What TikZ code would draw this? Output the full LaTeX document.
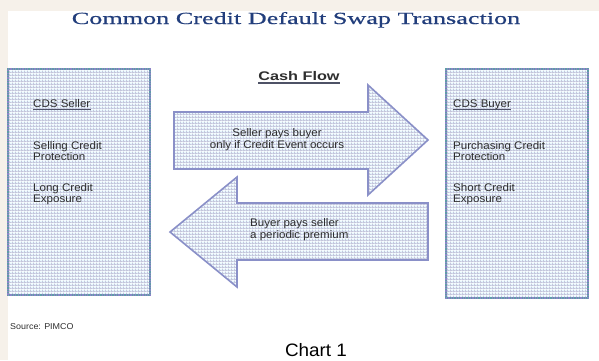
\documentclass[tikz,border=0pt]{standalone}
\usepackage{fontspec}
\usetikzlibrary{patterns.meta}

% Fonts: wide sans for labels, wide serif for the heading
\newfontfamily\labelfont[FakeStretch=1.05]{Liberation Sans}
\newfontfamily\flowfont[FakeStretch=1.3]{Liberation Sans}
\newfontfamily\titlefont[FakeStretch=1.54,FakeBold=0.6]{Liberation Serif}

\definecolor{paper}{HTML}{F6F1EA}
\definecolor{cellfill}{HTML}{E8F8FE}
\definecolor{cellline}{HTML}{C4C6DC}
\definecolor{cellavg}{HTML}{D6DEEC}
\definecolor{edgeteal}{HTML}{5E9EA6}
\definecolor{edgeviolet}{HTML}{8C84C8}
\definecolor{arrowedge}{HTML}{8A90C8}
\definecolor{titleblue}{HTML}{223E7C}
\definecolor{ink}{HTML}{2E2E2E}
\definecolor{rule}{HTML}{4E5266}

% Fine screen texture used inside the boxes and arrows
\tikzdeclarepattern{
  name=cellgrid,
  type=colored,
  bottom left={(0pt,0pt)},
  top right={(3pt,3pt)},
  tile size={(3pt,3pt)},
  code={
    \fill[cellfill] (0pt,0pt) rectangle (3pt,3pt);
    \fill[cellline] (0pt,0pt) rectangle (3pt,1pt);
    \fill[cellline] (0pt,0pt) rectangle (1pt,3pt);
  }
}

\begin{document}
\begin{tikzpicture}[x=1pt,y=-1pt,
  partybox/.style={fill=cellavg, pattern=cellgrid, draw=edgeteal, line width=2.4pt,
    inner sep=0pt, outer sep=0pt, anchor=north west,
    postaction={draw=edgeviolet, line width=2.4pt, dash pattern=on 1.2pt off 1.2pt}},
  flowarrow/.style={fill=cellavg, pattern=cellgrid, draw=arrowedge, line width=1.6pt, line join=miter},
  txt/.style={text=ink, inner sep=0pt, font=\labelfont\fontsize{11}{11}\selectfont},
  txtleft/.style={txt, anchor=base west},
  txtmid/.style={txt, anchor=base},
  heading/.style={txtleft},
  underrule/.style={draw=rule, line width=1.8pt}
]
% page background with the tinted margin strips
\fill[white] (0,0) rectangle (599,360);
\fill[paper] (0,0) rectangle (599,11);
\fill[paper] (0,0) rectangle (8,360);
\useasboundingbox (0,0) rectangle (599,360);

% title
\node[anchor=base, inner sep=0pt, text=titleblue,
      font=\titlefont\fontsize{17}{17}\selectfont] (title) at (296,24)
  {Common Credit Default Swap Transaction};

% the two counterparties
\node[partybox, minimum width=142pt, minimum height=226pt] (seller) at (8,69) {};
\node[partybox, minimum width=142pt, minimum height=229pt] (buyer) at (446,69) {};

\node[heading] (sellerhd) at (33,107) {CDS Seller};
\draw[underrule] ([yshift=-2.5pt]sellerhd.base west) -- ([yshift=-2.5pt]sellerhd.base east);
\node[txtleft] (sell1) at (33,149) {Selling Credit};
\node[txtleft] (sell2) at (33,160) {Protection};
\node[txtleft] (sell3) at (33,191) {Long Credit};
\node[txtleft] (sell4) at (33,202) {Exposure};

\node[heading] (buyerhd) at (453,107) {CDS Buyer};
\draw[underrule] ([yshift=-2.5pt]buyerhd.base west) -- ([yshift=-2.5pt]buyerhd.base east);
\node[txtleft] (buy1) at (453,149) {Purchasing Credit};
\node[txtleft] (buy2) at (453,160) {Protection};
\node[txtleft] (buy3) at (453,191) {Short Credit};
\node[txtleft] (buy4) at (453,202) {Exposure};

% cash flow heading
\node[anchor=base, inner sep=0pt, text=ink,
      font=\flowfont\bfseries\fontsize{12.5}{12.5}\selectfont] (flowhd) at (299,80) {Cash Flow};
\draw[underrule, line width=1.4pt] ([yshift=-3pt]flowhd.base west) -- ([yshift=-3pt]flowhd.base east);

% protection payment: seller to buyer
\path[flowarrow] (174,112) -- (368,112) -- (368,85) -- (428,140) -- (368,195)
  -- (368,169) -- (174,169) -- cycle;
\node[txtmid] (pay1) at (277,136) {Seller pays buyer};
\node[txtmid] (pay2) at (277,148) {only if Credit Event occurs};

% premium payment: buyer to seller
\path[flowarrow] (428,203) -- (237,203) -- (237,177) -- (170,232) -- (237,287)
  -- (237,260) -- (428,260) -- cycle;
\node[txtleft] (prem1) at (250,226) {Buyer pays seller};
\node[txtleft] (prem2) at (250,238) {a periodic premium};

% footer
\node[txtleft, font=\labelfont\fontsize{8.5}{8.5}\selectfont] (source) at (10,329) {Source: PIMCO};
\node[anchor=base, inner sep=0pt, text=black,
      font=\labelfont\fontsize{18}{18}\selectfont] (chart) at (316,356) {Chart 1};
\end{tikzpicture}
\end{document}
